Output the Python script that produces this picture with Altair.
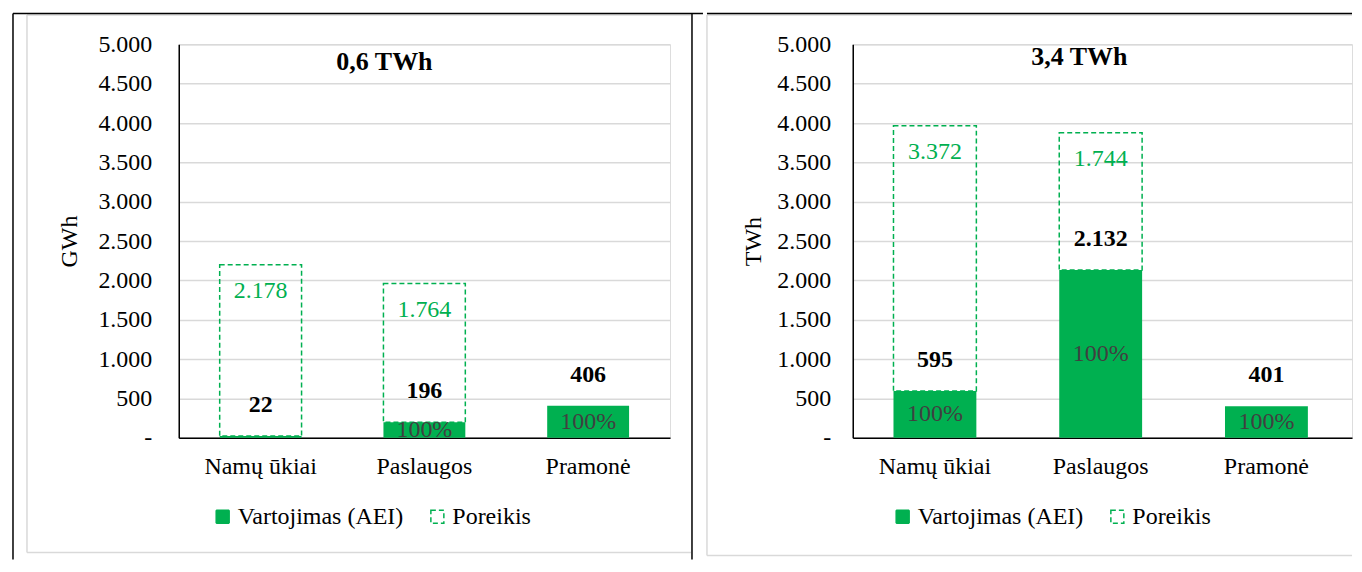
import altair as alt
import pandas as pd

# ---------------- data ----------------
categories = ["Namų ūkiai", "Paslaugos", "Pramonė"]
series_names = ["Vartojimas (AEI)", "Poreikis"]

left_consumption = [22, 196, 406]
left_need = [2178, 1764, 0]
left_pct = ["", "100%", "100%"]
left_title = "0,6 TWh"
left_unit = "GWh"

right_consumption = [595, 2132, 401]
right_need = [3372, 1744, 0]
right_pct = ["100%", "100%", "100%"]
right_title = "3,4 TWh"
right_unit = "TWh"

y_ticks = [0, 500, 1000, 1500, 2000, 2500, 3000, 3500, 4000, 4500, 5000]

# ---------------- style ----------------
GREEN = "#00B050"
GRID = "#D9D9D9"
SERIF = "'Times New Roman', 'Liberation Serif', 'DejaVu Serif', serif"
PLOT_H = 394


def fmt(expr):
    return "replace(format(" + expr + ", ','), ',', '.')"


dummy = pd.DataFrame({"k": [0]})


def hline(x1, x2, y, color, w):
    return alt.Chart(dummy).mark_rule(color=color, strokeWidth=w).encode(
        x=alt.value(x1), x2=alt.value(x2), y=alt.value(y)
    )


def vline(x, y1, y2, color, w):
    return alt.Chart(dummy).mark_rule(color=color, strokeWidth=w).encode(
        x=alt.value(x), y=alt.value(y1), y2=alt.value(y2)
    )


def panel(cons, need, pct, title, unit, width, xscale, label_pad, title_pad,
          legend_x, title_x, title_y, frames):
    df = pd.DataFrame({"cat": categories, "cons": cons, "need": need, "pct": pct})
    df["total"] = df["cons"] + df["need"]
    base = alt.Chart(df)

    xenc = alt.X(
        "cat:N", sort=categories, scale=alt.Scale(**xscale),
        axis=alt.Axis(title=None, labelAngle=0, labelPadding=17, ticks=False,
                      tickSize=0, domainColor="black", domainWidth=1.5,
                      labelFont=SERIF, labelFontSize=24, labelColor="black",
                      grid=False),
    )

    def yenc(field):
        return alt.Y(
            field, scale=alt.Scale(domain=[0, 5000], nice=False), stack=None,
            axis=alt.Axis(
                values=y_ticks,
                labelExpr="datum.value == 0 ? '-' : " + fmt("datum.value"),
                grid=True, gridColor=GRID, gridWidth=1.5,
                domainColor="black", domainWidth=1.5, ticks=False, tickSize=0,
                labelPadding=label_pad, labelFont=SERIF, labelFontSize=24,
                labelColor="black", title=unit, titleFont=SERIF,
                titleFontSize=24, titleFontWeight="normal", titleColor="black",
                titlePadding=title_pad,
            ),
        )

    leg = alt.Legend(
        title=None, orient="none", legendX=legend_x, legendY=461,
        direction="horizontal", symbolType="square", symbolSize=169,
        symbolStrokeWidth=1.5,
        labelFont=SERIF, labelFontSize=24, labelColor="black",
        labelOffset=3, columnPadding=22, labelLimit=0,
    )
    fill = alt.Fill("series:N",
                    scale=alt.Scale(domain=series_names, range=[GREEN, "transparent"]),
                    legend=leg)
    stroke = alt.Stroke("series:N",
                        scale=alt.Scale(domain=series_names, range=[GREEN, GREEN]),
                        legend=leg)
    dash = alt.StrokeDash("series:N",
                          scale=alt.Scale(domain=series_names, range=[[1, 0], [5, 3]]),
                          legend=leg)

    bars_cons = (
        base.transform_calculate(series="'Vartojimas (AEI)'")
        .mark_bar(strokeWidth=0)
        .encode(x=xenc, y=yenc("cons:Q"), fill=fill, stroke=stroke, strokeDash=dash)
    )
    bars_need = (
        base.transform_filter("datum.need > 0")
        .transform_calculate(series="'Poreikis'")
        .mark_bar(strokeWidth=1.5)
        .encode(x=xenc, y=yenc("cons:Q"), y2="total:Q", fill=fill, stroke=stroke,
                strokeDash=dash)
    )
    pct_text = (
        base.transform_filter("datum.pct != ''")
        .transform_calculate(mid="datum.cons / 2")
        .mark_text(font=SERIF, fontSize=24, color="#404040", baseline="middle")
        .encode(x=xenc, y=yenc("mid:Q"), text="pct:N")
    )
    val_text = (
        base.transform_calculate(lbl=fmt("datum.cons"))
        .mark_text(font=SERIF, fontSize=24, fontWeight="bold", color="black",
                   baseline="middle", dy=-31)
        .encode(x=xenc, y=yenc("cons:Q"), text="lbl:N")
    )
    need_text = (
        base.transform_filter("datum.need > 0")
        .transform_calculate(lbl=fmt("datum.need"))
        .mark_text(font=SERIF, fontSize=24, color=GREEN, baseline="middle", dy=26)
        .encode(x=xenc, y=yenc("total:Q"), text="lbl:N")
    )
    title_mark = (
        alt.Chart(pd.DataFrame({"t": [title]}))
        .mark_text(font=SERIF, fontSize=26, fontWeight="bold", color="black",
                   baseline="middle")
        .encode(x=alt.value(title_x), y=alt.value(title_y), text="t:N")
    )
    return alt.layer(
        *frames, bars_cons, bars_need, pct_text, val_text, need_text, title_mark
    ).properties(width=width, height=PLOT_H)


left_frames = [
    # grey chart-area border
    hline(-152, 513, -29.5, GRID, 1.5),
    hline(-152, 513, 509, GRID, 1.5),
    vline(-152, -29.5, 509, GRID, 1.5),
    # black table borders
    hline(-166, 525, -31, "black", 1.5),
    vline(-166, -31, 516, "black", 1.5),
    vline(514, -31, 516, "black", 1.5),
]
right_frames = [
    hline(-146, 500, -29.5, GRID, 1.5),
    hline(-146, 500, 512, GRID, 1.5),
    vline(-146, -29.5, 512, GRID, 1.5),
    hline(-146, 500, -31, "black", 1.5),
]

left = panel(left_consumption, left_need, left_pct, left_title, left_unit, 492,
             dict(paddingInner=0.5, paddingOuter=0.25), 27, 16, 32, 206, 18,
             left_frames)
right = panel(right_consumption, right_need, right_pct, right_title, right_unit, 500,
              dict(paddingInner=0.5, paddingOuter=0.256, align=0.48), 22, 11, 38,
              227, 12.5, right_frames)

chart = (
    alt.hconcat(left, right, spacing=0)
    .resolve_scale(fill="independent", stroke="independent",
                   strokeDash="independent", x="independent", y="independent")
    .resolve_legend(fill="independent", stroke="independent",
                    strokeDash="independent")
    .properties(padding={"left": 3, "top": 3, "right": 0, "bottom": 0})
    .configure_view(stroke=None)
    .configure(font=SERIF)
)

chart.save("out.html", embed_options={"renderer": "svg", "actions": False})
